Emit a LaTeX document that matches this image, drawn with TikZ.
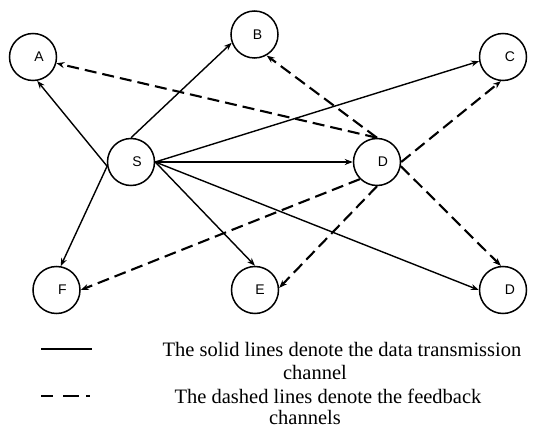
\documentclass[tikz,border=0pt]{standalone}
\usepackage{fontspec}
\setmainfont{Liberation Serif}
\newfontfamily\nodefont{Liberation Sans}
\usetikzlibrary{arrows.meta}
\tikzset{
  nd/.style={circle,draw,line width=1.5pt,minimum size=47pt,inner sep=0pt},
  lbl/.style={font=\nodefont\fontsize{14}{16}\selectfont},
  solidarrow/.style={line width=1.4pt,-{Stealth[length=8pt,width=6pt]}},
  dasharrow/.style={line width=2.1pt,dash pattern=on 12pt off 6pt,-{Stealth[length=8pt,width=6pt]}},
  legtext/.style={font=\fontsize{20.5}{24}\selectfont,inner sep=0pt,anchor=base}
}
\begin{document}
\begin{tikzpicture}[x=1pt,y=-1pt]
\useasboundingbox (0,0) rectangle (554,430);
% nodes
\node[nd,label={[lbl,xshift=6pt]center:A}] (A) at (33,57) {};
\node[nd,label={[lbl,xshift=3pt]center:B}] (B) at (254.5,34.5) {};
\node[nd,label={[lbl,xshift=7pt]center:C}] (C) at (503,57) {};
\node[nd,label={[lbl,xshift=6pt]center:S}] (S) at (131,162) {};
\node[nd,label={[lbl,xshift=6pt]center:D}] (D) at (377,162) {};
\node[nd,label={[lbl,xshift=6pt]center:F}] (F) at (56.5,290) {};
\node[nd,label={[lbl,xshift=5pt]center:E}] (E) at (255,290) {};
\node[nd,label={[lbl,xshift=7pt]center:D}] (Dd) at (503,290) {};
% solid data channels
\draw[solidarrow] (S.190) -- (A.-80);
\draw[solidarrow] (S.190) -- (F.80);
\draw[solidarrow] (S.north) -- (B.200);
\draw[solidarrow] (S.east) -- (C.190);
\draw[solidarrow] (S.east) -- (D.west);
\draw[solidarrow] (S.east) -- (E.north);
\draw[solidarrow] (S.east) -- (Dd.west);
% dashed feedback channels
\draw[dasharrow] (D.north) -- (A.-15);
\draw[dasharrow] (D.north) -- (B.-60);
\draw[dasharrow] (D.east) -- (C.-95);
\draw[dasharrow] (D.-10) -- (Dd.95);
\draw[dasharrow] (D.225) -- (F.east);
\draw[dasharrow] (D.south) -- (E.5);
% legend
\coordinate (l1a) at (41,349);
\coordinate (l1b) at (92,349);
\coordinate (l2a) at (41,396);
\coordinate (l2b) at (92,396);
\draw[line width=1.4pt] (l1a) -- (l1b);
\draw[line width=2.6pt,dash pattern=on 12pt off 10pt on 16pt off 7pt on 4pt off 20pt] (l2a) -- (l2b);
\node[legtext] (t1) at (342,356) {The solid lines denote the data transmission};
\node[legtext] (t2) at (315,379.5) {channel};
\node[legtext] (t3) at (328,403) {The dashed lines denote the feedback};
\node[legtext] (t4) at (305,424.5) {channels};
\end{tikzpicture}
\end{document}
